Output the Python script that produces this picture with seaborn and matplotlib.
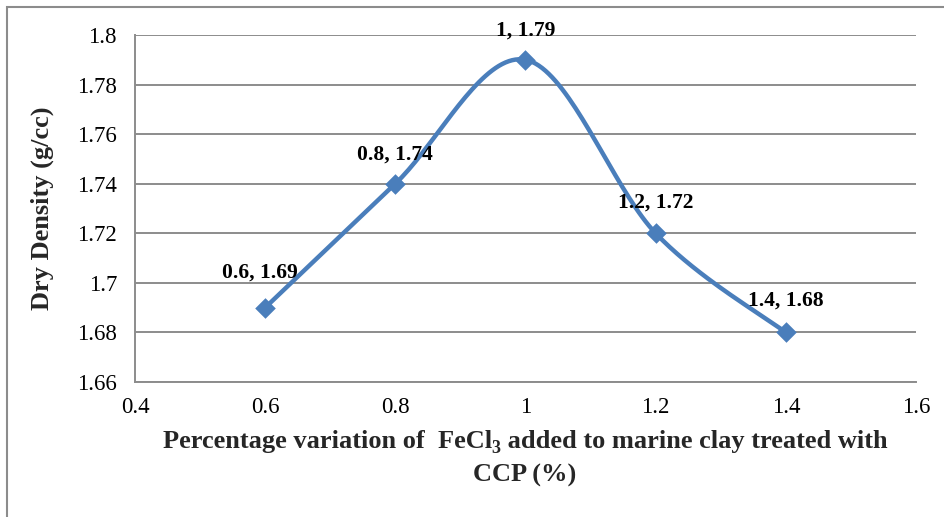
import numpy as np
import pandas as pd
import matplotlib
matplotlib.use("Agg")
import matplotlib.pyplot as plt
from matplotlib.patches import Rectangle
import seaborn as sns

# FeCl3 dosage (%) and the resulting dry density (g/cc)
fecl3_pct = [0.6, 0.8, 1.0, 1.2, 1.4]
dry_density = [1.69, 1.74, 1.79, 1.72, 1.68]
point_labels = ["0.6, 1.69", "0.8, 1.74", "1, 1.79", "1.2, 1.72", "1.4, 1.68"]
x_ticks = [0.4, 0.6, 0.8, 1.0, 1.2, 1.4, 1.6]
x_tick_labels = ["0.4", "0.6", "0.8", "1", "1.2", "1.4", "1.6"]
y_ticks = [1.66, 1.68, 1.70, 1.72, 1.74, 1.76, 1.78, 1.80]
y_tick_labels = ["1.66", "1.68", "1.7", "1.72", "1.74", "1.76", "1.78", "1.8"]

sns.set_theme(style="white")
plt.rcParams["font.family"] = ["Liberation Serif", "DejaVu Serif"]

BLUE = "#4A7EBB"
GRID = "#8C8C8C"
W, H = 945, 517

fig = plt.figure(figsize=(W / 100, H / 100), dpi=100)
ax = fig.add_axes([135 / W, 1 - 382 / H, (916 - 135) / W, (382 - 35) / H])

xlim = (0.4, 1.6)
ylim = (1.66, 1.80)


def smooth_curve(xs, ys, n=40):
    """Cubic Bezier smoothing through the points (cardinal spline)."""
    xs = np.asarray(xs, float)
    ys = np.asarray(ys, float)
    # work in normalised axis units so both directions weigh the same
    aspect = 347 / 781
    sx = (xs - xlim[0]) / (xlim[1] - xlim[0])
    sy = (ys - ylim[0]) / (ylim[1] - ylim[0]) * aspect
    P = np.column_stack([sx, sy])
    Pe = np.vstack([P[0], P, P[-1]])
    out = []
    for i in range(len(P) - 1):
        p0, p1, p2, p3 = Pe[i], Pe[i + 1], Pe[i + 2], Pe[i + 3]
        c1 = p1 + (p2 - p0) / 6
        c2 = p2 - (p3 - p1) / 6
        t = np.linspace(0, 1, n)[:, None]
        seg = ((1 - t) ** 3) * p1 + 3 * ((1 - t) ** 2) * t * c1 + 3 * (1 - t) * t ** 2 * c2 + t ** 3 * p2
        out.append(seg if i == 0 else seg[1:])
    out = np.vstack(out)
    cx = out[:, 0] * (xlim[1] - xlim[0]) + xlim[0]
    cy = out[:, 1] / aspect * (ylim[1] - ylim[0]) + ylim[0]
    return cx, cy


cx, cy = smooth_curve(fecl3_pct, dry_density)
curve = pd.DataFrame({"x": cx, "y": cy})
pts = pd.DataFrame({"x": fecl3_pct, "y": dry_density})

sns.lineplot(data=curve, x="x", y="y", sort=False, color=BLUE, linewidth=3.2, ax=ax, zorder=3)
sns.scatterplot(data=pts, x="x", y="y", marker="D", s=110, color=BLUE, edgecolor=BLUE,
                linewidth=0, ax=ax, zorder=4)

label_offsets = [(-4, 18), (0, 14), (0, 14), (0, 15), (0, 16)]
for x, y, lab, (dx, dy) in zip(fecl3_pct, dry_density, point_labels, label_offsets):
    ax.annotate(lab, (x, y), xytext=(dx, dy), textcoords="offset points",
                ha="center", va="bottom", fontsize=15.5, fontweight="bold", color="black")

ax.set_xlim(*xlim)
ax.set_ylim(*ylim)
ax.set_xticks(x_ticks)
ax.set_xticklabels(x_tick_labels)
ax.set_yticks(y_ticks)
ax.set_yticklabels(y_tick_labels)
ax.tick_params(axis="both", length=0, labelsize=16.5, colors="black")
ax.tick_params(axis="y", pad=13)
ax.tick_params(axis="x", pad=11)

ax.yaxis.grid(True, color=GRID, linewidth=1.4)
ax.xaxis.grid(False)
for side in ("top", "right"):
    ax.spines[side].set_visible(False)
for side in ("left", "bottom"):
    ax.spines[side].set_color(GRID)
    ax.spines[side].set_linewidth(1.4)

ax.set_xlabel("")
ax.set_ylabel("")
fig.text(42 / W, 1 - 208 / H, "Dry Density (g/cc)", rotation=90, ha="center", va="center",
         fontsize=19, fontweight="bold")

# x-axis title, first line built from pieces so the subscript stays bold
renderer = fig.canvas.get_renderer()
pieces = [("Percentage variation of  FeCl", 19, 0), ("3", 13, -5), (" added to marine clay treated with", 19, 0)]
texts = []
for s, fs, dy in pieces:
    t = fig.text(0, 0, s, fontsize=fs, fontweight="bold", ha="left", va="baseline")
    texts.append((t, dy))
widths = [t.get_window_extent(renderer).width for t, _ in texts]
total = sum(widths)
x0 = 525 - total / 2
base_y = H - 448
for (t, dy), w in zip(texts, widths):
    t.set_position((x0 / W, (base_y + dy) / H))
    x0 += w

fig.text(525 / W, 1 - 475 / H, "CCP (%)", ha="center", va="center",
         fontsize=19, fontweight="bold")

# outer chart frame
fig.patches.append(Rectangle((7 / W, -0.1), 1.2, 1 - 7 / H + 0.1, transform=fig.transFigure,
                             fill=False, edgecolor="#8C8C8C", linewidth=1.5))

fig.savefig("out.png", dpi=100)
